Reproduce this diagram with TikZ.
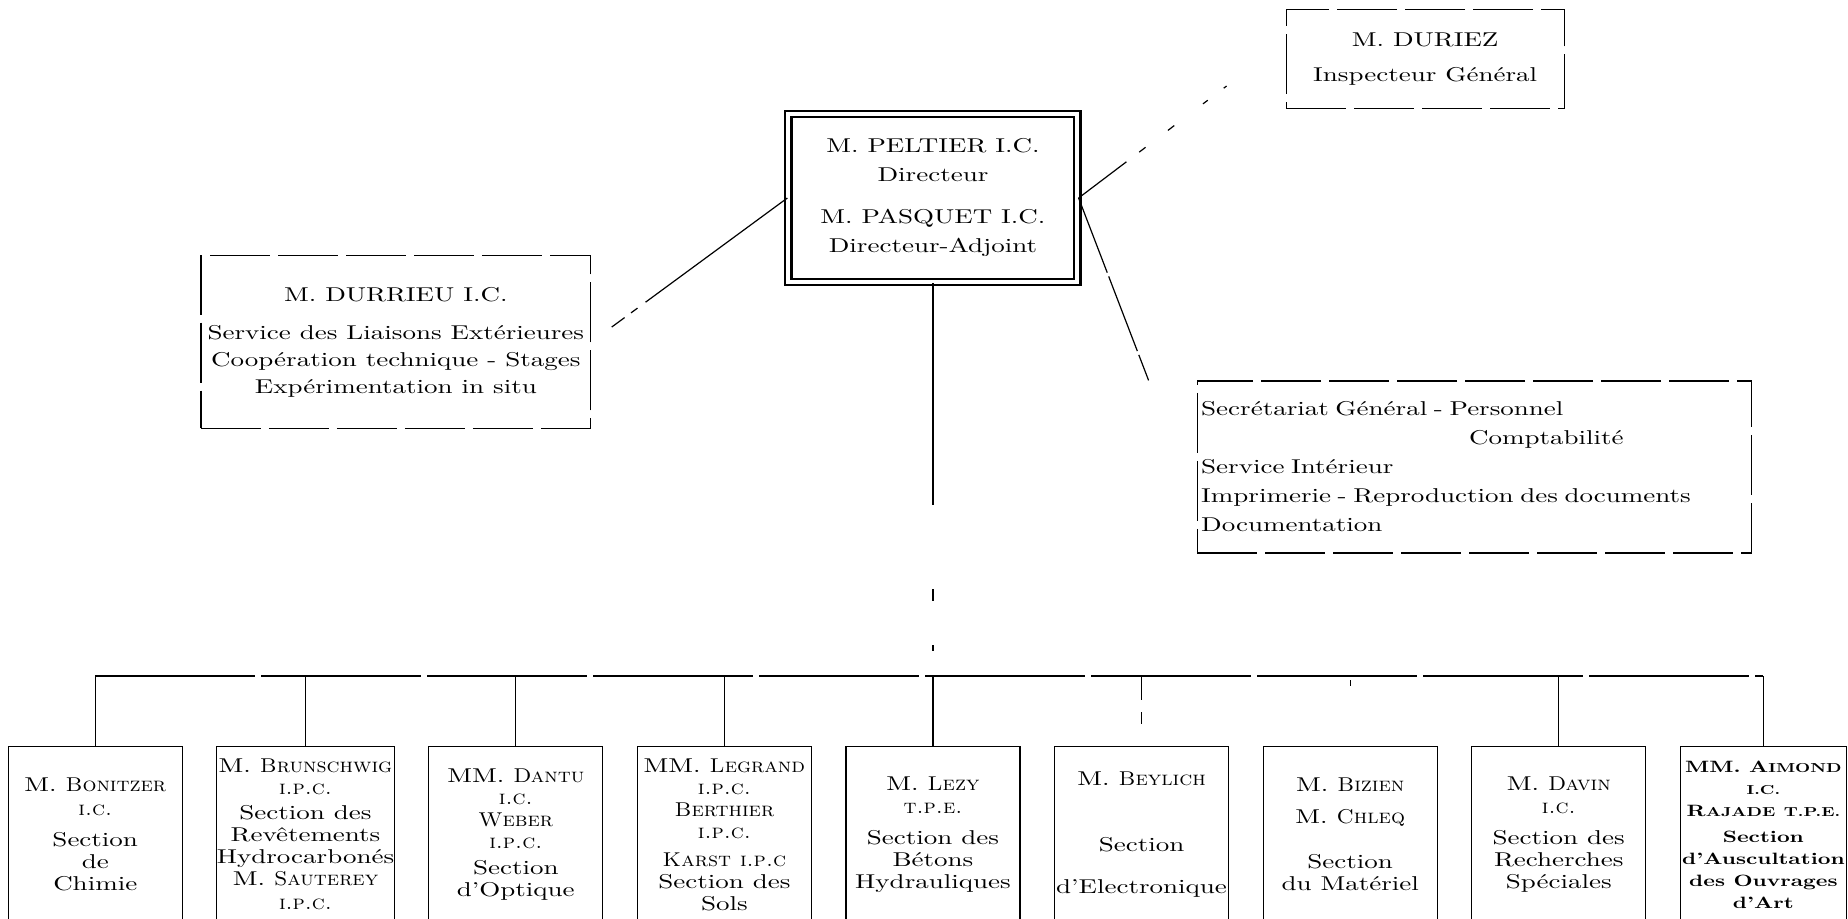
\documentclass[tikz,border=0pt]{standalone}
\usepackage{fontspec}
\setmainfont{lmroman10-regular.otf}[
    BoldFont=lmroman10-bold.otf,
    ItalicFont=lmroman10-italic.otf,
    SmallCapsFont=lmromancaps10-regular.otf,
    UprightFeatures={FakeStretch=1.35},
    BoldFeatures={FakeStretch=1.35},
    SmallCapsFeatures={FakeStretch=1.1}]
\usetikzlibrary{positioning}
\tikzset{main node/.style={shape=rectangle,
    draw, double, double distance=2pt, line width=1.1pt, align=center,
    minimum width=144.5pt, minimum height=84pt,
    font=\fontsize{10}{14.5}\selectfont}}
\tikzset{side node/.style={shape=rectangle,
    draw, line width=0.6pt, dash pattern=on 30pt off 4pt, align=center}}
\tikzset{section node/.style={shape=rectangle,
    draw, line width=0.6pt, align=center, inner sep=0pt,
    minimum width=87pt, minimum height=88pt,
    font=\fontsize{10}{11}\selectfont}}
\newcommand{\bsc}[1]{{\fontsize{6.5}{11}\selectfont #1}}

\begin{document}
\begin{tikzpicture}
    \useasboundingbox (-466.5pt,99pt) rectangle (457.5pt,-360.5pt);
    \clip (-466.5pt,99pt) rectangle (457.5pt,-360.5pt);

    \node[main node] (1) {M. PELTIER I.C.\\ Directeur\\[6.5pt] M. PASQUET I.C.\\ Directeur-Adjoint};
    \node[side node, minimum width=139pt, minimum height=49.5pt,
        font=\fontsize{10}{17.5}\selectfont] (2) [right = 103.5pt of 1, yshift=69.5pt] {M. DURIEZ\\ Inspecteur Général};
    \node[side node, minimum width=191.5pt, minimum height=86.5pt,
        font=\fontsize{10}{13.5}\selectfont] (3) [left = 98pt of 1, yshift=-72pt] {M. DURRIEU I.C.\\[5.5pt] Service des Liaisons Extérieures\\ Coopération technique - Stages\\ Expérimentation in situ};
    \node[side node, align=left, text width=273pt, inner xsep=2pt, minimum height=86pt,
        font=\fontsize{10}{14.5}\selectfont] (4) [right = 59pt of 1, yshift=-134.5pt] {Secrétariat Général - Personnel\\ \hspace*{134pt}Comptabilité\\ Service Intérieur\\ Imprimerie - Reproduction des documents\\ Documentation};

	\node[section node] (9) [below = 231.5pt of 1] {M. \textsc{Lezy}\\[0.5pt] \textsc{t.p.e.}\\[4.5pt] Section des\\ Bétons\\ Hydrauliques};
	\node[section node] (8) [left = 16.7pt of 9] {MM. \textsc{Legrand}\\ \textsc{i.p.c.}\\ \textsc{Berthier}\\ \textsc{i.p.c.}\\[3pt] \textsc{Karst} \textsc{i.p.c}\\ Section des\\ Sols};
	\node[section node] (7) [left = 16.7pt of 8] {MM. \textsc{Dantu}\\ \textsc{i.c.}\\ \textsc{Weber}\\ \textsc{i.p.c.}\\[2pt] Section\\ d'Optique};
	\node[section node] (6) [left = 16.7pt of 7] {M. \textsc{Brunschwig}\\ \textsc{i.p.c.}\\[1.5pt] Section des\\ Revêtements\\ Hydrocarbonés\\ M. \textsc{Sauterey}\\[1pt] \textsc{i.p.c.}};
	\node[section node] (5) [left = 16.7pt of 6] {M. \textsc{Bonitzer}\\[1pt] \textsc{i.c.}\\[4.5pt] Section\\ de\\ Chimie};
	\node[section node] (10) [right = 16.7pt of 9] {M. \textsc{Beylich}\\[22pt] Section\\[10pt] d'Electronique};
	\node[section node] (11) [right = 16.7pt of 10] {M. \textsc{Bizien}\\[5pt] M. \textsc{Chleq}\\[11.5pt] Section\\ du Matériel};
	\node[section node] (12) [right = 16.7pt of 11] {M. \textsc{Davin}\\[0.5pt] \textsc{i.c.}\\[4.5pt] Section des\\ Recherches\\ Spéciales};
	\node[section node, minimum width=83pt, font=\fontsize{8.2}{11}\bfseries] (13) [right = 16.7pt of 12] {MM. A\bsc{IMOND}\\ \bsc{I.C.}\\ R\bsc{AJADE} \bsc{T.P.E.}\\[2pt] Section\\ d'Auscultation\\ des Ouvrages\\ d'Art};

    \coordinate (bus) at ([yshift=35pt]9.north);
    \coordinate (2e) at ([xshift=-29.5pt,yshift=-13.5pt]2.west);
    \coordinate (4e) at ([xshift=-24pt]4.north west);

    \path[draw,line width=0.6pt]
    (1.west) edge[dash pattern=on 88pt off 5pt on 4pt off 4pt on 8pt off 20pt, shorten >=8pt] (3.east)
    (1.east) edge[dash pattern=on 30pt off 8pt on 4pt off 14pt on 4pt off 18pt on 3pt off 10pt on 2pt off 20pt] (2e)
    (1.east) edge[dash pattern=on 40pt off 2pt] (4e)
    (1.south) edge[dash pattern=on 111pt off 42pt on 6pt off 22pt on 3pt off 30pt] (1.south |- bus)
    (5.north |- bus) edge[dash pattern=on 80pt off 3pt] (13.north |- bus)
    (10.north |- bus) edge[dash pattern=on 12pt off 6pt on 6pt off 40pt] (10.north)
    (11.north |- bus) edge[dash pattern=on 0pt off 2pt on 3pt off 60pt] (11.north)
    ;
    \foreach \i in {5,6,7,8,9,12,13}
        \draw[line width=0.6pt] (\i.north |- bus) -- (\i.north);
\end{tikzpicture}
\end{document}
